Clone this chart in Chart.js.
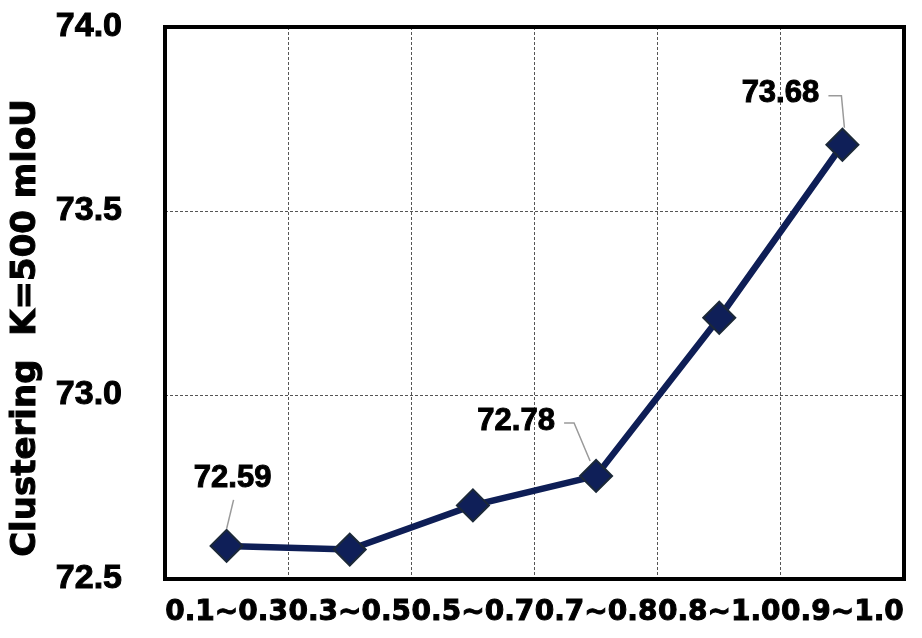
<!DOCTYPE html>
<html>
<head>
<meta charset="utf-8">
<script src="https://cdn.jsdelivr.net/npm/chart.js@4"></script>
<style>
  html, body { margin: 0; padding: 0; background: #fff; }
  #wrap { width: 922px; height: 638px; }
</style>
</head>
<body>
<div id="wrap"><canvas id="chart"></canvas></div>
<script>
// data
const ranges = ['0.1~0.3', '0.3~0.5', '0.5~0.7', '0.7~0.8', '0.8~1.0', '0.9~1.0'];
const miou = [72.59, 72.58, 72.70, 72.78, 73.21, 73.68];
const yTicks = [72.5, 73.0, 73.5, 74.0];
const labelledPoints = [0, 3, 5];
const yTitle = 'Clustering  K=500 mIoU';

const SANS = "'Liberation Sans', Arial, sans-serif";
const WIDE = "'DejaVu Sans', 'Liberation Sans', sans-serif";

// where each value label sits relative to its marker, plus its leader line
const callouts = {
  0: { dx: 6, dy: -67, line: [[7, -46], [0, -17]] },
  3: { dx: -80, dy: -55, line: [[-32, -53], [-22, -53], [-6, -15]] },
  5: { dx: -62, dy: -51, line: [[-14, -49], [-1, -49], [2, -17]] }
};

const decorPlugin = {
  id: 'decor',
  afterDatasetsDraw(chart) {
    const ctx = chart.ctx;
    const pts = chart.getDatasetMeta(0).data;
    ctx.save();
    labelledPoints.forEach(i => {
      const p = pts[i];
      const c = callouts[i];
      ctx.strokeStyle = '#9a9a9a';
      ctx.lineWidth = 1.5;
      ctx.beginPath();
      c.line.forEach(([dx, dy], k) => {
        if (k === 0) ctx.moveTo(p.x + dx, p.y + dy);
        else ctx.lineTo(p.x + dx, p.y + dy);
      });
      ctx.stroke();
      ctx.fillStyle = '#000';
      ctx.strokeStyle = '#000';
      ctx.lineWidth = 1;
      ctx.font = "bold 31px " + SANS;
      ctx.textAlign = 'center';
      ctx.textBaseline = 'middle';
      ctx.strokeText(miou[i].toFixed(2), p.x + c.dx, p.y + c.dy);
      ctx.fillText(miou[i].toFixed(2), p.x + c.dx, p.y + c.dy);
    });
    ctx.restore();
  },
  afterDraw(chart) {
    const a = chart.chartArea;
    const ctx = chart.ctx;
    ctx.save();
    ctx.strokeStyle = '#000';
    ctx.lineWidth = 4;
    ctx.strokeRect(a.left, a.top, a.right - a.left, a.bottom - a.top);
    // y axis title
    ctx.translate(26, 328);
    ctx.rotate(-Math.PI / 2);
    ctx.fillStyle = '#000';
    ctx.lineWidth = 1;
    ctx.font = "bold 34px " + WIDE;
    ctx.textAlign = 'center';
    ctx.textBaseline = 'middle';
    ctx.strokeText(yTitle, 0, 0);
    ctx.fillText(yTitle, 0, 0);
    ctx.restore();
  }
};

new Chart(document.getElementById('chart'), {
  type: 'line',
  data: {
    labels: ranges,
    datasets: [{
      data: miou,
      borderColor: '#0e1e56',
      borderWidth: 6.5,
      backgroundColor: '#0f1f58',
      pointStyle: 'rectRot',
      pointRadius: 16,
      pointBorderColor: '#1b2838',
      pointBorderWidth: 2,
      tension: 0
    }]
  },
  options: {
    responsive: true,
    maintainAspectRatio: false,
    animation: false,
    layout: { padding: { left: 0, top: 27, right: 14, bottom: 0 } },
    plugins: {
      legend: { display: false },
      tooltip: { enabled: false }
    },
    scales: {
      x: {
        offset: true,
        grid: { offset: true, color: '#555', lineWidth: 1, drawTicks: false },
        border: { display: false, dash: [3, 2] },
        ticks: {
          color: '#000',
          font: { family: WIDE, size: 28, weight: 'bold' },
          textStrokeColor: '#000',
          textStrokeWidth: 1,
          padding: 17,
          maxRotation: 0,
          autoSkip: false
        },
        afterFit(scale) {
          scale.height = 59;
          scale.paddingLeft = 0;
          scale.paddingRight = 0;
        }
      },
      y: {
        min: 72.5,
        max: 74.0,
        afterBuildTicks(scale) { scale.ticks = yTicks.map(v => ({ value: v })); },
        grid: { color: '#555', lineWidth: 1, drawTicks: false },
        border: { display: false, dash: [3, 2] },
        ticks: {
          color: '#000',
          font: { family: SANS, size: 34, weight: 'bold' },
          textStrokeColor: '#000',
          textStrokeWidth: 1,
          padding: 43,
          callback: v => v.toFixed(1)
        },
        afterFit(scale) {
          scale.width = 165;
          scale.paddingTop = 0;
          scale.paddingBottom = 0;
        }
      }
    }
  },
  plugins: [decorPlugin]
});
</script>
</body>
</html>
